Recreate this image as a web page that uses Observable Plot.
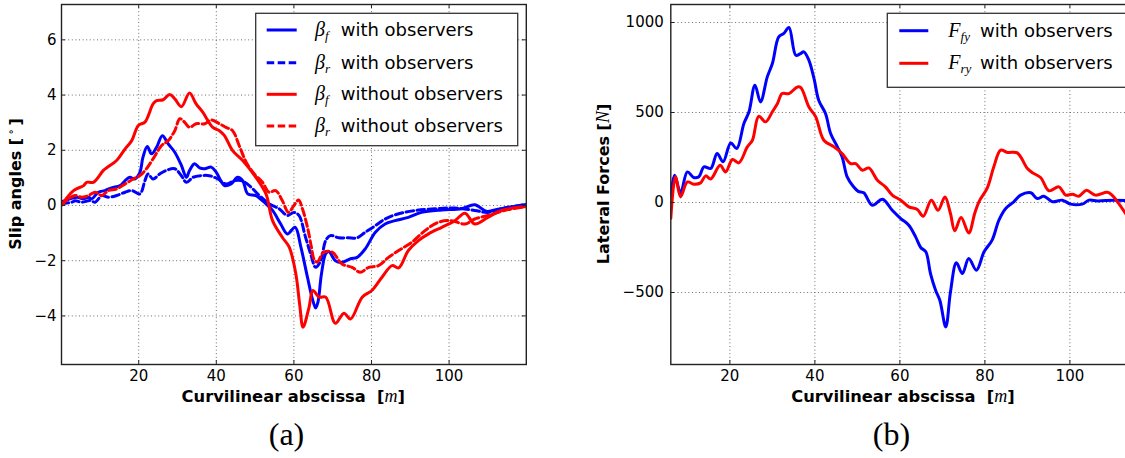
<!DOCTYPE html>
<html><head><meta charset="utf-8">
<script src="https://cdn.jsdelivr.net/npm/d3@7"></script>
<script src="https://cdn.jsdelivr.net/npm/@observablehq/plot@0.6"></script>
<style>
html,body{margin:0;padding:0;background:#fff;overflow:hidden;}
#wrap{position:relative;width:1125px;height:458px;overflow:hidden;background:#fff;}
#left,#right{position:absolute;top:0;}
#left{left:0;width:560px;} #right{left:560px;width:580px;}
#left svg,#right svg{max-width:none !important;}
#overlay{position:absolute;left:0;top:0;pointer-events:none;}
</style></head><body>
<div id="wrap"><div id="left"></div><div id="right"></div><svg id="overlay" width="1125" height="458" xmlns="http://www.w3.org/2000/svg"></svg></div>
<script>
// ---------- Data: panel (a) slip angles [deg] vs curvilinear abscissa [m] ----------
const betaF_with = [[0,0.12],[2.3,0.24],[4.1,0.3],[5.8,0.24],[7,0.3],[7.9,0.24],[9.6,0.48],[11.3,0.54],[13,0.64],[15.2,0.72],[16.5,0.9],[17.7,1.02],[19,0.96],[20.3,1.2],[21.1,1.75],[22.2,2.14],[23.3,1.87],[24.6,2.11],[26.1,2.53],[27.6,2.23],[29.3,1.93],[31,1.45],[32.3,1.02],[33.1,1.27],[34.4,1.51],[35.7,1.36],[37,1.33],[38.7,1.39],[40,1.2],[42.1,0.72],[43.8,0.78],[45.5,1.02],[46.8,0.9],[48.1,0.42],[50.2,0.36],[52.8,0.06],[54.5,-0.18],[56.6,-0.67],[58.3,-1.03],[60.3,-0.79],[61.8,-1.51],[63.5,-2.6],[64.8,-3.4],[65.6,-3.71],[66.2,-3.5],[67.1,-2.48],[68.2,-1.75],[69,-1.67],[70.7,-2.0],[72.4,-2.06],[74.6,-1.93],[76.3,-1.88],[78.4,-1.57],[81,-0.97],[83.5,-0.67],[86.1,-0.55],[89.5,-0.43],[92.9,-0.25],[98.1,-0.16],[103.2,-0.12],[106.6,0.03],[109.6,-0.21],[111.8,-0.16],[116,-0.05],[119.9,0.04]];
const betaR_with = [[0,0.06],[2.8,0.12],[3.6,0.17],[5.3,0.12],[7.5,0.18],[8.8,0.12],[10.5,0.36],[12.2,0.3],[14.3,0.36],[16.5,0.48],[18.2,0.54],[20.3,0.42],[21.6,0.9],[22.4,1.14],[23.7,0.96],[25.4,1.14],[27.1,1.27],[29.3,1.33],[31,1.08],[32.3,0.84],[34,1.02],[36.1,1.08],[38.2,1.08],[40.4,0.96],[42.5,0.78],[44.7,0.9],[46.4,0.9],[48.5,0.72],[51.1,0.36],[53.6,0.06],[56.2,-0.12],[58.3,-0.36],[60,-0.25],[61.3,-0.36],[63,-1.15],[64.3,-1.75],[65.6,-2.24],[66.9,-2.0],[68.2,-1.27],[69.4,-1.09],[71.6,-1.17],[74.1,-1.17],[76.3,-1.17],[78.4,-0.97],[81,-0.73],[83.5,-0.49],[87,-0.3],[91.3,-0.18],[96.4,-0.12],[101.5,-0.09],[106.6,-0.18],[110,-0.25],[113.5,-0.12],[119.9,0.04]];
const betaF_without = [[0,0.0],[3.2,0.54],[5.8,0.72],[6.6,0.84],[8.3,0.84],[10.9,1.27],[12.2,1.41],[14.3,1.63],[16.5,2.05],[18.2,2.35],[19.9,2.9],[21.6,3.02],[23.7,3.68],[24.6,3.8],[26.3,3.83],[28,4.02],[29.3,3.86],[31,3.58],[33.1,4.07],[34.8,3.68],[36.5,3.38],[39.1,2.83],[40.8,2.71],[42.1,2.53],[44.2,1.99],[46.8,1.63],[50.2,1.02],[52.8,0.42],[54.5,-0.55],[57,-1.15],[58.8,-1.51],[60.5,-2.48],[61.5,-3.6],[62.35,-4.41],[63.9,-3.69],[64.9,-3.08],[66.5,-3.32],[68.2,-3.32],[70.7,-4.27],[72.9,-3.9],[74.6,-4.11],[77.6,-3.32],[80.1,-3.08],[82.7,-2.6],[85.3,-2.18],[87,-2.26],[89.5,-1.63],[92.1,-1.27],[94.7,-1.03],[98.1,-0.79],[101.5,-0.55],[104.1,-0.28],[106.6,-0.67],[110,-0.43],[113.5,-0.18],[119.9,-0.04]];
const betaR_without = [[0,0.0],[1.9,0.24],[3.6,0.36],[5.3,0.3],[7,0.36],[8.8,0.48],[10.5,0.36],[12.2,0.54],[14.3,0.6],[16.5,0.78],[18.6,0.96],[20.3,1.08],[22,1.33],[23.7,1.69],[25.9,2.17],[27.6,2.35],[29.3,2.71],[30.6,3.14],[31.8,3.02],[33.1,2.83],[34.8,2.96],[37,2.96],[38.7,3.1],[40.8,2.96],[42.5,2.83],[44.2,2.71],[45.9,2.17],[47.7,1.57],[49.8,1.14],[51.9,0.84],[53.6,0.48],[55.3,0.54],[57,0.18],[58.6,-0.25],[60,0.0],[61.2,0.2],[62.2,-0.12],[63.5,-0.79],[64.5,-1.5],[65.2,-1.95],[66,-2.05],[67.7,-1.69],[69.9,-1.69],[72.4,-2.12],[75,-2.24],[77.1,-2.42],[79.3,-2.24],[81.8,-2.18],[84.4,-1.88],[87,-1.63],[90.4,-1.33],[93.8,-0.91],[97.2,-0.61],[100.6,-0.55],[104.1,-0.67],[106.6,-0.49],[110,-0.36],[114.3,-0.18],[119.9,-0.04]];
const slipTicksX = [20, 40, 60, 80, 100];
const slipTicksY = [-4, -2, 0, 2, 4, 6];

// ---------- Data: panel (b) lateral forces [N] vs curvilinear abscissa [m] ----------
const Ffy_with = [[6.1,40],[7,152],[8.4,54],[10,170],[11.5,139],[12.7,143],[13.9,198],[15.5,189],[17,272],[18.4,226],[20.2,331],[21.6,300],[23.3,439],[24.5,504],[25.9,652],[27.2,559],[28.8,698],[30,772],[31.5,920],[32.7,939],[33.9,972],[35.5,818],[36.6,827],[37.4,837],[38.6,790],[39.8,688],[40.9,568],[42.5,494],[43.7,383],[45.3,309],[46.4,254],[47.6,142],[49,90],[50.2,62],[51.5,54],[53.5,-15],[55.9,18],[58.2,-43],[60.2,-89],[62.1,-126],[63.7,-191],[64.9,-250],[66.1,-274],[67.2,-395],[68.4,-487],[69.4,-543],[70.8,-691],[71.9,-497],[73.3,-335],[74.7,-395],[76.2,-311],[78,-376],[79.8,-274],[81.7,-209],[83.3,-98],[84.9,-33],[86.8,4],[88.4,41],[90.8,54],[92.3,22],[93.9,35],[95.9,4],[98.2,13],[100.2,-9],[102.9,-9],[104.5,13],[106.5,9],[110.4,13],[114,9]];
const Fry_with = [[6.1,-88],[7.2,143],[8.4,31],[10,114],[11.5,102],[13.1,109],[14.3,148],[15.5,131],[17.7,207],[19,170],[20.6,239],[22.1,220],[24.1,309],[25.3,346],[26.8,479],[28.4,448],[30,504],[31.2,550],[32.3,605],[33.9,605],[35.9,642],[36.7,638],[38.6,531],[40.2,476],[42.1,346],[44.5,309],[46.4,272],[48.4,216],[49.6,216],[51.2,179],[52.7,192],[54.7,124],[56.6,87],[58.2,41],[60.2,13],[62.1,-24],[64.1,-39],[65.5,-76],[67.4,13],[69,-43],[70.6,31],[71.9,-61],[72.9,-157],[74.4,-83],[76.2,-169],[77.6,-61],[78.6,4],[80.6,83],[82.1,198],[83.7,291],[85.3,278],[87.6,276],[90,189],[91.2,165],[93.1,139],[95.1,65],[97.4,87],[99,41],[100.6,46],[102.1,35],[103.9,68],[106,41],[108.8,57],[109.9,41],[111.5,-6],[113.2,-65],[114,-95]];
const forceTicksX = [20, 40, 60, 80, 100];
const forceTicksY = [-500, 0, 500, 1000];

const BLUE = "#0000ff", RED = "#ff0000";
const DASH = "7.5,3.5";
const gridStyle = {stroke: "#555", strokeOpacity: 0.85, strokeDasharray: "1,2.6", strokeWidth: 1};
const numFmt = d3.format("d");

function panel({width, mL, mR, xDomain, yDomain, xTicks, yTicks, series, tickPad}) {
  const H = 458, mT = 4, mB = 458 - 364;
  const fh = H - mT - mB, fw = width - mL - mR;
  const lines = series.map(s => Plot.line(s.data, {x: d => d[0], y: d => d[1], stroke: s.color,
    strokeWidth: 3, strokeDasharray: s.dash || null, curve: "catmull-rom", clip: true}));
  return Plot.plot({
    width, height: H, marginLeft: mL, marginRight: mR, marginTop: mT, marginBottom: mB,
    style: {fontFamily: "'DejaVu Sans', sans-serif", fontSize: "15px", color: "#000", background: "transparent", maxWidth: "none"},
    x: {domain: xDomain}, y: {domain: yDomain},
    marks: [
      Plot.gridX(xTicks, gridStyle),
      Plot.gridY(yTicks, gridStyle),
      ...lines,
      Plot.ruleX(xTicks, {x: d => d, insetTop: fh - 4, stroke: "#222"}),
      Plot.ruleX(xTicks, {x: d => d, insetBottom: fh - 4, stroke: "#222"}),
      Plot.ruleY(yTicks, {y: d => d, insetRight: fw - 4, stroke: "#222"}),
      Plot.ruleY(yTicks, {y: d => d, insetLeft: fw - 4, stroke: "#222"}),
      Plot.axisX(xTicks, {tickSize: 0, tickPadding: 6, label: null, fontSize: 15, tickFormat: numFmt}),
      Plot.axisY(yTicks, {tickSize: 0, tickPadding: tickPad, label: null, fontSize: 15, tickFormat: numFmt}),
      Plot.frame({stroke: "#222", strokeWidth: 1.4})
    ]
  });
}

document.getElementById("left").appendChild(panel({
  width: 560, mL: 61, mR: 560 - 525.8, xDomain: [0.1, 119.9], yDomain: [-5.76, 7.28],
  xTicks: slipTicksX, yTicks: slipTicksY, tickPad: 5,
  series: [
    {data: betaF_with, color: BLUE},
    {data: betaR_with, color: BLUE, dash: DASH},
    {data: betaF_without, color: RED},
    {data: betaR_without, color: RED, dash: DASH}
  ]
}));
document.getElementById("right").appendChild(panel({
  width: 580, mL: 110.3, mR: 4.3, xDomain: [6.1, 115.6], yDomain: [-900, 1100],
  xTicks: forceTicksX, yTicks: forceTicksY, tickPad: 7,
  series: [
    {data: Ffy_with, color: BLUE},
    {data: Fry_with, color: RED}
  ]
}));

// ---------- Overlay: legends, axis labels, captions ----------
const SANS = "'DejaVu Sans', sans-serif", SERIF = "'Liberation Serif', 'DejaVu Serif', serif";
const leftLegend = [
  {sym: "β", sub: "f", text: "with observers", color: BLUE, dash: null},
  {sym: "β", sub: "r", text: "with observers", color: BLUE, dash: DASH},
  {sym: "β", sub: "f", text: "without observers", color: RED, dash: null},
  {sym: "β", sub: "r", text: "without observers", color: RED, dash: DASH}
];
const rightLegend = [
  {sym: "F", sub: "fy", text: "with observers", color: BLUE, dash: null},
  {sym: "F", sub: "ry", text: "with observers", color: RED, dash: null}
];
function legendSvg(items, box, rows, lx1, lx2, mx, tx) {
  let s = `<rect x="${box[0]}" y="${box[1]}" width="${box[2]}" height="${box[3]}" fill="#fff" stroke="#333" stroke-width="1.3"/>`;
  items.forEach((it, i) => {
    const cy = rows[i];
    s += `<line x1="${lx1}" x2="${lx2}" y1="${cy}" y2="${cy}" stroke="${it.color}" stroke-width="3" ${it.dash ? `stroke-dasharray="${it.dash}"` : ""}/>`;
    s += `<text x="${mx}" y="${cy + 6}" font-family="${SERIF}" font-style="italic" font-size="20">${it.sym}<tspan font-size="13" dy="4">${it.sub}</tspan></text>`;
    s += `<text x="${tx}" y="${cy + 6}" font-family="${SANS}" font-size="18">${it.text}</text>`;
  });
  return s;
}
let ov = "";
ov += legendSvg(leftLegend, [255.7, 13.3, 262, 132.4], [30, 62.7, 94.3, 126], 266.7, 296.7, 315, 340.7);
ov += legendSvg(rightLegend, [887.3, 13.3, 270, 74], [30.7, 63.3], 899.3, 928.3, 948.3, 980);
const xlab = (x) => `<text x="${x}" y="401.7" text-anchor="middle" font-family="${SANS}" font-weight="bold" font-size="16.3">Curvilinear abscissa\u00a0\u00a0[<tspan font-family="${SERIF}" font-style="italic" font-weight="normal" font-size="18">m</tspan>]</text>`;
ov += xlab(293.3) + xlab(903);
ov += `<text transform="translate(21,184) rotate(-90)" text-anchor="middle" font-family="${SANS}" font-weight="bold" font-size="16">Slip angles [\u2009<tspan font-family="${SERIF}" font-weight="normal" font-size="12" dy="-6">∘</tspan><tspan dy="6">\u2009]</tspan></text>`;
ov += `<text transform="translate(608.5,184) rotate(-90)" text-anchor="middle" font-family="${SANS}" font-weight="bold" font-size="16">Lateral Forces [<tspan font-family="${SERIF}" font-style="italic" font-weight="normal" font-size="18">N</tspan>]</text>`;
ov += `<text x="286.5" y="445" text-anchor="middle" font-family="${SERIF}" font-size="32">(a)</text>`;
ov += `<text x="891.5" y="445" text-anchor="middle" font-family="${SERIF}" font-size="32">(b)</text>`;
document.getElementById("overlay").innerHTML = ov;
</script>
</body></html>
